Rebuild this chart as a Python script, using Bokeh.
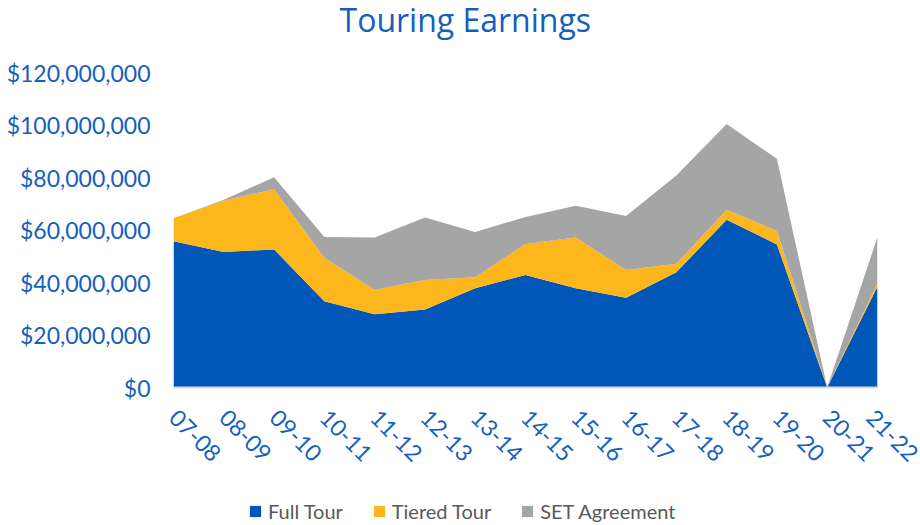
import math
from bokeh.plotting import figure
from bokeh.layouts import column
from bokeh.models import (ColumnDataSource, FixedTicker, NumeralTickFormatter, Legend,
                          LegendItem, Range1d, Label)
from bokeh.embed import file_html
from bokeh.resources import INLINE

seasons = ["07-08", "08-09", "09-10", "10-11", "11-12", "12-13", "13-14", "14-15",
           "15-16", "16-17", "17-18", "18-19", "19-20", "20-21", "21-22"]
full_tour = [55.7, 51.6, 52.6, 32.9, 27.9, 29.7, 37.8, 42.9,
             37.8, 34.2, 43.9, 63.9, 54.5, 0.0, 38.5]
tiered_tour = [8.8, 19.6, 22.9, 16.5, 9.3, 11.3, 4.2, 11.8,
               19.3, 10.6, 3.2, 3.8, 5.1, 0.0, 1.2]
set_agreement = [0.0, 0.3, 4.6, 7.9, 19.9, 23.8, 17.2, 10.3,
                 12.1, 20.5, 33.7, 32.7, 27.5, 0.0, 17.6]
series_names = ["Full Tour", "Tiered Tour", "SET Agreement"]
colors = ["#0057B7", "#FDB71C", "#A5A5A5"]
chart_title = "Touring Earnings"

M = 1_000_000
src = ColumnDataSource(dict(
    x=list(range(len(seasons))),
    full=[v * M for v in full_tour],
    tiered=[v * M for v in tiered_tour],
    set=[v * M for v in set_agreement],
))
stackers = ["full", "tiered", "set"]

# ---------------- title strip ----------------
pt = figure(width=920, height=40, output_backend="svg", toolbar_location=None,
            x_axis_type=None, y_axis_type=None,
            x_range=Range1d(0, 704), y_range=Range1d(0, 40),
            min_border_left=173, min_border_right=43, min_border_top=0, min_border_bottom=0)
pt.xgrid.visible = False
pt.ygrid.visible = False
pt.outline_line_color = None
pt.add_layout(Label(x=166, y=21, text=chart_title, text_align="left",
                    text_baseline="middle", text_font="Open Sans",
                    text_font_size="32px", text_color="#1560BD"))

# ---------------- main chart ----------------
p = figure(width=920, height=455, output_backend="svg", toolbar_location=None,
           x_range=Range1d(0, len(seasons) - 1), y_range=Range1d(0, 120 * M),
           min_border_left=173, min_border_right=43, min_border_top=32,
           min_border_bottom=108)

p.varea_stack(stackers, x="x", color=colors, source=src)

p.xgrid.visible = False
p.ygrid.visible = False
p.outline_line_color = None

p.xaxis.ticker = FixedTicker(ticks=list(range(len(seasons))))
p.xaxis.major_label_overrides = {i: s for i, s in enumerate(seasons)}
p.xaxis.major_label_orientation = -math.pi / 4
p.xaxis.major_tick_line_color = None
p.xaxis.major_tick_out = 0
p.xaxis.minor_tick_line_color = None
p.xaxis.axis_line_color = "#D9D9D9"
p.xaxis.axis_line_width = 2
p.xaxis.major_label_text_font = "Lato"
p.xaxis.major_label_text_font_size = "23px"
p.xaxis.major_label_text_color = "#1560BD"
p.xaxis.major_label_standoff = 26

p.yaxis.ticker = FixedTicker(ticks=[i * 20 * M for i in range(7)])
p.yaxis.formatter = NumeralTickFormatter(format="$0,0")
p.yaxis.axis_line_color = None
p.yaxis.major_tick_line_color = None
p.yaxis.major_tick_out = 0
p.yaxis.minor_tick_line_color = None
p.yaxis.major_label_text_font = "Lato"
p.yaxis.major_label_text_font_size = "23px"
p.yaxis.major_label_text_color = "#1560BD"
p.yaxis.major_label_standoff = 23

# ---------------- legend strip ----------------
pl = figure(width=920, height=30, output_backend="svg", toolbar_location=None,
            x_axis_type=None, y_axis_type=None,
            x_range=Range1d(1000, 1001), y_range=Range1d(0, 1),
            min_border_left=0, min_border_right=0, min_border_top=0, min_border_bottom=0)
pl.xgrid.visible = False
pl.ygrid.visible = False
pl.outline_line_color = None
lrs = pl.varea_stack(stackers, x="x", color=colors, source=src)

legend = Legend(items=[LegendItem(label=n, renderers=[r]) for n, r in zip(series_names, lrs)],
                orientation="horizontal", location=(75, 2),
                label_text_font="Lato", label_text_font_size="20px",
                label_text_color="#595959", glyph_width=14, glyph_height=14,
                spacing=29, label_standoff=6, background_fill_alpha=0,
                border_line_color=None, padding=2, margin=0)
pl.add_layout(legend, "center")

open("out.html", "w").write(file_html(column(pt, p, pl, spacing=0), INLINE))
